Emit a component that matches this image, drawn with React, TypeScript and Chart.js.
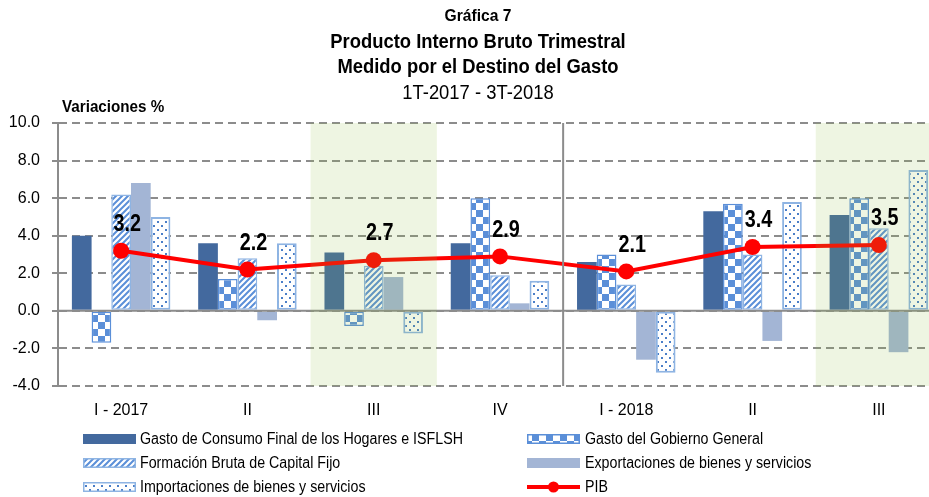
import React, { useEffect, useRef } from 'react';
import { Chart, registerables } from 'chart.js';

Chart.register(...registerables);

const categories = ['I - 2017', 'II', 'III', 'IV', 'I - 2018', 'II', 'III'];
const hogares = [4.0, 3.6, 3.1, 3.6, 2.6, 5.3, 5.1];
const gobierno = [-1.7, 1.7, -0.8, 6.0, 3.0, 5.7, 6.0];
const fbkf = [6.2, 2.8, 2.4, 1.9, 1.4, 3.0, 4.4];
const exportaciones = [6.8, -0.5, 1.8, 0.4, -2.6, -1.6, -2.2];
const importaciones = [5.0, 3.6, -1.2, 1.6, -3.3, 5.8, 7.5];
const pib = [3.2, 2.2, 2.7, 2.9, 2.1, 3.4, 3.5];
const yMin = -4;
const yMax = 10;
const yStep = 2;
const shadedCategories = [2, 6];
const separatorAfter = 3;
const titleLines = ['Gráfica 7', 'Producto Interno Bruto Trimestral', 'Medido por el Destino del Gasto'];
const subtitle = '1T-2017 - 3T-2018';
const yTitle = 'Variaciones %';
const seriesNames = [
  'Gasto de Consumo Final de los Hogares e ISFLSH',
  'Gasto del Gobierno General',
  'Formación Bruta de Capital Fijo',
  'Exportaciones de bienes y servicios',
  'Importaciones de bienes y servicios',
  'PIB',
];

const FONT = "'Liberation Sans Narrow', 'Arial Narrow', 'Liberation Sans', Arial, sans-serif";
const GRAY = '#8C8C8C';
const DARK = '#43699E';
const BLUE = '#5B8FD8';
const LIGHTBORDER = '#8EB4E3';
const EXPORT = '#A3B5D5';
const RED = '#FF0000';

function makeTile(size: number, draw: (c: CanvasRenderingContext2D) => void) {
  const cv = document.createElement('canvas');
  cv.width = size;
  cv.height = size;
  const c = cv.getContext('2d')!;
  draw(c);
  return cv;
}

function makePatterns(ctx: CanvasRenderingContext2D) {
  const checker = makeTile(14, (c) => {
    c.fillStyle = '#FFFFFF';
    c.fillRect(0, 0, 14, 14);
    c.fillStyle = BLUE;
    c.fillRect(0, 0, 7, 7);
    c.fillRect(7, 7, 7, 7);
  });
  const stripes = makeTile(6, (c) => {
    c.fillStyle = '#FFFFFF';
    c.fillRect(0, 0, 6, 6);
    c.strokeStyle = BLUE;
    c.lineWidth = 2;
    c.beginPath();
    c.moveTo(-1, 7); c.lineTo(7, -1);
    c.moveTo(-4, 4); c.lineTo(4, -4);
    c.moveTo(2, 10); c.lineTo(10, 2);
    c.stroke();
  });
  const dots = makeTile(8, (c) => {
    c.fillStyle = '#FFFFFF';
    c.fillRect(0, 0, 8, 8);
    c.fillStyle = '#4A7EC8';
    c.fillRect(1, 1, 2, 2);
    c.fillRect(5, 5, 2, 2);
  });
  return {
    checker: ctx.createPattern(checker, 'repeat')!,
    stripes: ctx.createPattern(stripes, 'repeat')!,
    dots: ctx.createPattern(dots, 'repeat')!,
  };
}

function narrowText(c: CanvasRenderingContext2D, text: string, x: number, y: number, font: string, sx: number, align: CanvasTextAlign) {
  c.save();
  c.font = font;
  c.textAlign = align;
  c.textBaseline = 'middle';
  c.translate(x, y);
  c.scale(sx, 1);
  c.fillText(text, 0, 0);
  c.restore();
}

export default function App() {
  const ref = useRef<HTMLCanvasElement | null>(null);

  useEffect(() => {
    const canvas = ref.current!;
    const ctx = canvas.getContext('2d')!;
    const pats = makePatterns(ctx);

    const fills = [DARK, pats.checker, pats.stripes, EXPORT, pats.dots];
    const borders = [DARK, BLUE, LIGHTBORDER, EXPORT, LIGHTBORDER];
    const borderWidths = [0, 1.5, 1.5, 0, 2];

    const overlayPlugin = {
      id: 'overlay',
      afterDatasetsDraw(chart: any) {
        const { ctx: c, chartArea } = chart;
        const x = chart.scales.x;
        const y = chart.scales.y;
        const w = x.getPixelForValue(1) - x.getPixelForValue(0);
        c.save();
        c.strokeStyle = GRAY;
        c.lineWidth = 2;
        c.beginPath();
        const y0 = y.getPixelForValue(0);
        c.moveTo(chartArea.left, y0);
        c.lineTo(chartArea.right, y0);
        const xs = x.getPixelForValue(separatorAfter) + w / 2;
        c.moveTo(xs, chartArea.top);
        c.lineTo(xs, chartArea.bottom);
        c.stroke();
        c.fillStyle = 'rgba(142,188,62,0.15)';
        shadedCategories.forEach((i) => {
          const cx = x.getPixelForValue(i);
          c.fillRect(cx - w / 2, chartArea.top, w, chartArea.bottom - chartArea.top);
        });
        c.restore();
      },
      afterDraw(chart: any) {
        const c: CanvasRenderingContext2D = chart.ctx;
        c.save();
        c.fillStyle = '#000000';
        const meta = chart.getDatasetMeta(5);
        meta.data.forEach((pt: any, i: number) => {
          narrowText(c, pib[i].toFixed(1), pt.x + 6, pt.y - 26, `bold 23px ${FONT}`, 0.86, 'center');
        });
        const cx = 478;
        narrowText(c, titleLines[0], cx, 16, `bold 17px ${FONT}`, 0.92, 'center');
        narrowText(c, titleLines[1], cx, 42, `bold 20px ${FONT}`, 0.92, 'center');
        narrowText(c, titleLines[2], cx, 67, `bold 20px ${FONT}`, 0.92, 'center');
        narrowText(c, subtitle, cx, 93, `20px ${FONT}`, 0.92, 'center');
        narrowText(c, yTitle, 62, 108, `bold 16px ${FONT}`, 0.95, 'left');
        const colSw = [83, 527];
        const colTx = [140, 585];
        const rows = [439, 463, 487];
        seriesNames.forEach((name, i) => {
          const col = i % 2;
          const row = Math.floor(i / 2);
          const sx = colSw[col];
          const sy = rows[row];
          if (i < 5) {
            c.fillStyle = fills[i] as any;
            c.fillRect(sx, sy - 5, 53, 10);
            if (borderWidths[i] > 0) {
              c.strokeStyle = borders[i];
              c.lineWidth = 1.5;
              c.strokeRect(sx + 0.75, sy - 4.25, 51.5, 8.5);
            }
          } else {
            c.strokeStyle = RED;
            c.lineWidth = 4;
            c.beginPath();
            c.moveTo(sx, sy);
            c.lineTo(sx + 53, sy);
            c.stroke();
            c.fillStyle = RED;
            c.beginPath();
            c.arc(sx + 26.5, sy, 5.5, 0, Math.PI * 2);
            c.fill();
          }
          c.fillStyle = '#000000';
          narrowText(c, name, colTx[col], sy + 1, `16px ${FONT}`, 0.89, 'left');
        });
        c.restore();
      },
    };

    const barSeries = [hogares, gobierno, fbkf, exportaciones, importaciones];
    const datasets: any[] = barSeries.map((data, i) => ({
      type: 'bar',
      label: seriesNames[i],
      data,
      backgroundColor: fills[i],
      borderColor: borders[i],
      borderWidth: borderWidths[i],
      borderSkipped: false,
      categoryPercentage: 0.78,
      barPercentage: 1.0,
      order: 2,
    }));
    datasets.push({
      type: 'line',
      label: seriesNames[5],
      data: pib,
      borderColor: RED,
      backgroundColor: RED,
      borderWidth: 4,
      pointRadius: 8,
      pointBackgroundColor: RED,
      pointBorderWidth: 0,
      order: 1,
    });

    const chart = new Chart(ctx, {
      type: 'bar',
      data: { labels: categories, datasets },
      options: {
        animation: false,
        responsive: false,
        devicePixelRatio: 1,
        layout: { padding: { top: 123, right: 8, left: 0, bottom: 0 } },
        plugins: { legend: { display: false }, tooltip: { enabled: false }, title: { display: false } },
        scales: {
          x: {
            type: 'category',
            offset: true,
            grid: { display: false, drawTicks: false },
            border: { display: false },
            ticks: { color: '#000', font: { family: FONT, size: 16 }, padding: 15, maxRotation: 0, autoSkip: false },
            afterFit: (s: any) => { s.height = 111; },
          },
          y: {
            min: yMin,
            max: yMax,
            ticks: {
              stepSize: yStep,
              color: '#000',
              font: { family: FONT, size: 16 },
              padding: 12,
              callback: (v: any) => Number(v).toFixed(1),
            },
            grid: { color: GRAY, lineWidth: 2, tickLength: 6, tickColor: GRAY, tickWidth: 2 },
            border: { display: true, color: GRAY, width: 2, dash: [8, 5] },
            afterFit: (s: any) => { s.width = 58; },
          },
        },
      },
      plugins: [overlayPlugin],
    } as any);

    return () => chart.destroy();
  }, []);

  return (
    <div style={{ position: 'fixed', left: 0, top: 0, width: 929, height: 497, overflow: 'hidden', background: '#fff' }}>
      <canvas ref={ref} width={950} height={497} style={{ display: 'block' }} />
    </div>
  );
}
